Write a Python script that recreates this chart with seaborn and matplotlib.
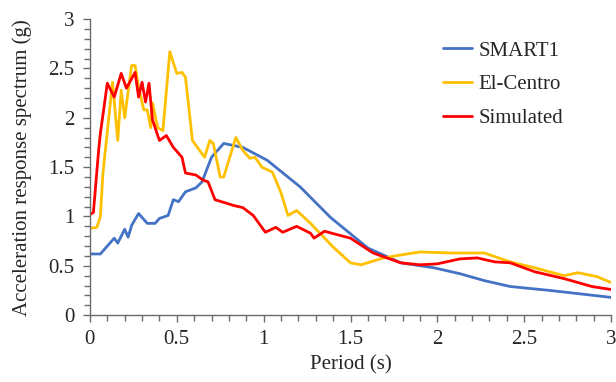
import numpy as np
import pandas as pd
import matplotlib
matplotlib.use("Agg")
import matplotlib.pyplot as plt
import seaborn as sns
from matplotlib.ticker import MultipleLocator

smart1_x = [0.00, 0.06, 0.14, 0.16, 0.20, 0.22, 0.24, 0.28, 0.33, 0.375, 0.40, 0.45, 0.48, 0.51, 0.55,
            0.61, 0.645, 0.70, 0.77, 0.88, 1.02, 1.21, 1.385, 1.60, 1.79, 1.98, 2.13, 2.27, 2.42, 2.65, 2.85, 3.00]
smart1_y = [0.62, 0.62, 0.78, 0.73, 0.87, 0.79, 0.91, 1.03, 0.93, 0.93, 0.98, 1.01, 1.17, 1.15, 1.25,
            1.29, 1.35, 1.60, 1.74, 1.70, 1.57, 1.30, 0.99, 0.68, 0.53, 0.48, 0.42, 0.35, 0.29, 0.25, 0.21, 0.18]

elcentro_x = [0.00, 0.04, 0.06, 0.075, 0.13, 0.16, 0.18, 0.20, 0.24, 0.26, 0.28, 0.31, 0.33, 0.35, 0.36,
              0.39, 0.42, 0.46, 0.50, 0.53, 0.55, 0.59, 0.66, 0.69, 0.71, 0.75, 0.77, 0.84, 0.88, 0.92,
              0.95, 0.99, 1.05, 1.10, 1.14, 1.19, 1.27, 1.40, 1.50, 1.56, 1.69, 1.79, 1.90, 2.08, 2.27,
              2.42, 2.56, 2.73, 2.81, 2.92, 3.00]
elcentro_y = [0.88, 0.89, 1.00, 1.44, 2.36, 1.77, 2.28, 2.00, 2.53, 2.53, 2.31, 2.08, 2.08, 1.90, 2.15,
              1.90, 1.87, 2.67, 2.45, 2.46, 2.41, 1.77, 1.60, 1.77, 1.74, 1.40, 1.40, 1.80, 1.67, 1.59,
              1.60, 1.50, 1.45, 1.24, 1.01, 1.06, 0.93, 0.69, 0.53, 0.51, 0.58, 0.61, 0.64, 0.63, 0.63,
              0.54, 0.48, 0.40, 0.43, 0.39, 0.33]

simulated_x = [0.00, 0.02, 0.05, 0.06, 0.10, 0.14, 0.18, 0.21, 0.26, 0.28, 0.30, 0.32, 0.34, 0.36, 0.40,
               0.44, 0.48, 0.53, 0.55, 0.61, 0.65, 0.68, 0.72, 0.83, 0.88, 0.94, 1.01, 1.07, 1.11, 1.19,
               1.27, 1.29, 1.35, 1.50, 1.63, 1.79, 1.90, 2.00, 2.13, 2.23, 2.33, 2.42, 2.56, 2.73, 2.89, 3.00]
simulated_y = [1.02, 1.04, 1.67, 1.84, 2.35, 2.21, 2.45, 2.30, 2.46, 2.21, 2.36, 2.16, 2.35, 1.98, 1.77,
               1.82, 1.70, 1.60, 1.44, 1.42, 1.37, 1.35, 1.17, 1.11, 1.09, 1.01, 0.84, 0.89, 0.84, 0.90,
               0.83, 0.78, 0.85, 0.78, 0.63, 0.53, 0.51, 0.52, 0.57, 0.58, 0.54, 0.53, 0.44, 0.37, 0.29, 0.26]

series_names = ["SMART1", "El-Centro", "Simulated"]
colors = ["#4472C4", "#FFC000", "#FF0000"]

df = pd.concat([
    pd.DataFrame({"Period": smart1_x, "Sa": smart1_y, "Series": series_names[0]}),
    pd.DataFrame({"Period": elcentro_x, "Sa": elcentro_y, "Series": series_names[1]}),
    pd.DataFrame({"Period": simulated_x, "Sa": simulated_y, "Series": series_names[2]}),
], ignore_index=True)

sns.set_style("white")
plt.rcParams["font.family"] = ["Liberation Serif", "DejaVu Serif"]

fig = plt.figure(figsize=(6.16, 3.82), dpi=100)
ax = fig.add_axes([0.146, 0.175, 0.846, 0.775])

sns.lineplot(data=df, x="Period", y="Sa", hue="Series", palette=dict(zip(series_names, colors)),
             estimator=None, sort=False, linewidth=2.0, ax=ax)

ax.set_xlim(0, 3)
ax.set_ylim(0, 3)
ax.xaxis.set_major_locator(MultipleLocator(0.5))
ax.yaxis.set_major_locator(MultipleLocator(0.5))
ax.xaxis.set_minor_locator(MultipleLocator(0.1))
ax.yaxis.set_minor_locator(MultipleLocator(0.1))
ax.xaxis.set_major_formatter(matplotlib.ticker.FuncFormatter(lambda v, p: f"{v:g}"))
ax.yaxis.set_major_formatter(matplotlib.ticker.FuncFormatter(lambda v, p: f"{v:g}"))

for s in ["top", "right"]:
    ax.spines[s].set_visible(False)
for s in ["left", "bottom"]:
    ax.spines[s].set_color("#6b6b6b")
    ax.spines[s].set_linewidth(1.0)

ax.tick_params(axis="both", which="major", direction="out", length=5, width=1, color="#6b6b6b",
               labelsize=15, pad=6, bottom=True, left=True)
ax.tick_params(axis="both", which="minor", direction="out", length=4, width=1, color="#6b6b6b",
               bottom=True, left=True)

ax.set_xlabel("Period (s)", fontsize=15, labelpad=4)
ax.set_ylabel("Acceleration response spectrum (g)", fontsize=15, labelpad=12)

handles, labels = ax.get_legend_handles_labels()
ax.legend(handles, labels, loc="upper left", bbox_to_anchor=(0.706, 0.914), bbox_transform=fig.transFigure,
          frameon=False, fontsize=15, handlelength=1.4, handletextpad=0.3, labelspacing=0.67,
          borderaxespad=0)

fig.savefig("out.png", dpi=100)
